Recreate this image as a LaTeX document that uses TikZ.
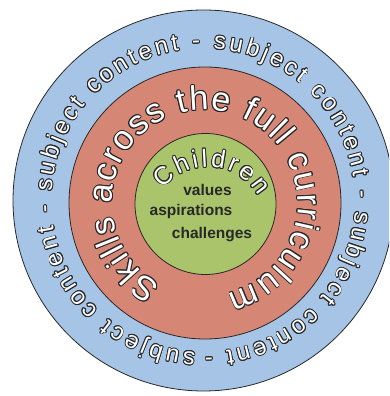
\documentclass[tikz,border=0pt]{standalone}
\usepackage{fontspec}
\setmainfont{Liberation Sans}
\usetikzlibrary{decorations.text}

\definecolor{ringblue}{RGB}{166,196,229}
\definecolor{ringred}{RGB}{214,134,116}
\definecolor{ringgreen}{RGB}{170,196,108}
\definecolor{inkgray}{RGB}{40,40,40}

\tikzset{
  ring/.style={fill=#1, draw=inkgray, line width=0.8pt},
  arctext/.style={decorate, decoration={text along path, text align=fit to path, text color=#1}},
  corelabel/.style={text=inkgray, font=\bfseries\fontsize{15.5}{18}\selectfont, inner sep=0pt},
}

% outlined text along an arc: centre, radius, start, end, font size, text
\newcommand\ringlabel[6]{%
  \foreach \a in {0,30,...,330}
    \path[arctext=inkgray, decoration={text={|\fontsize{#5}{#5}\selectfont|#6}}]
      ([shift={(\a:0.9)}]#1) ++(#3:#2) arc[start angle=#3, end angle=#4, radius=#2];
  \path[arctext=white, decoration={text={|\fontsize{#5}{#5}\selectfont|#6}}]
    (#1) ++(#3:#2) arc[start angle=#3, end angle=#4, radius=#2];
}

\begin{document}
\begin{tikzpicture}[x=1pt, y=1pt]
  \useasboundingbox (0,0) rectangle (389,396);
  \clip (0,0) rectangle (389,396);
  \coordinate (outer) at (203.5,195.5);
  \coordinate (middle) at (205,193);
  \coordinate (inner) at (205.5,192);
  \coordinate (kidsarc) at (208,171);
  % the three rings
  \path[ring=ringblue] (outer) circle[radius=190.5];
  \path[ring=ringred] (middle) circle[radius=136];
  \path[ring=ringgreen] (inner) circle[radius=70.5];
  % curved labels
  \ringlabel{outer}{152}{267}{-89.5}{24}{subject content - subject content - subject content - subject content -}
  \ringlabel{middle}{93}{242}{-76}{34}{Skills across the full curriculum}
  \ringlabel{kidsarc}{58}{141}{30}{25}{Children}
  % centre words
  \node[corelabel] (values) at (207.5,206) {values};
  \node[corelabel] (aspirations) at (191,184.5) {aspirations};
  \node[corelabel] (challenges) at (212,161) {challenges};
\end{tikzpicture}
\end{document}
